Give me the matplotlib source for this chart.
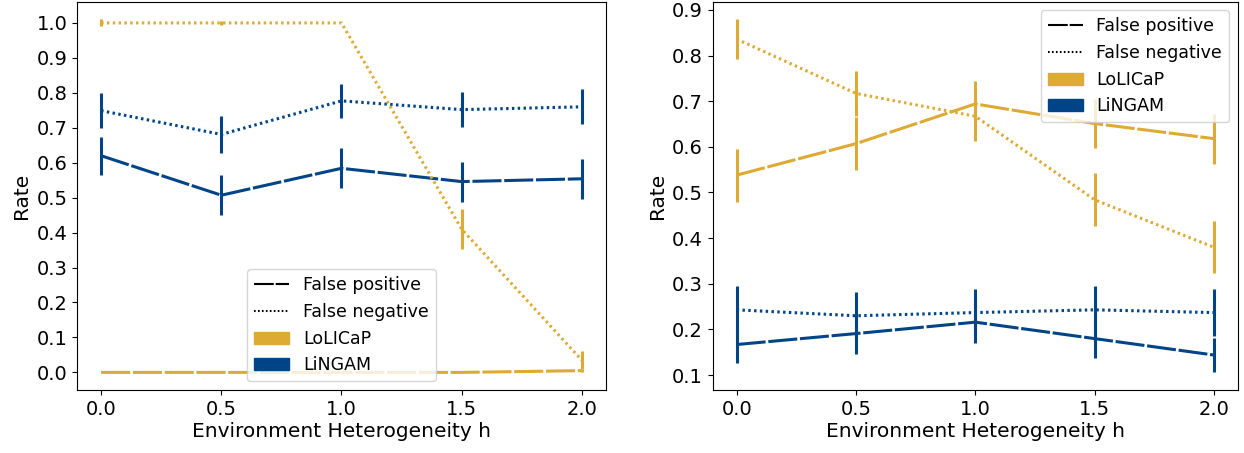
import matplotlib
matplotlib.use("Agg")
import matplotlib.pyplot as plt
from matplotlib.lines import Line2D
from matplotlib.patches import Patch

h = [0.0, 0.5, 1.0, 1.5, 2.0]

# Left panel
left_lolicap_fp = [0.0, 0.0, 0.0, 0.0, 0.005]
left_lolicap_fp_err = [0.0, 0.0, 0.0, 0.0, 0.005]
left_lolicap_fn = [1.0, 1.0, 1.0, 0.41, 0.035]
left_lolicap_fn_err = [0.01, 0.005, 0.0, 0.057, 0.025]
left_lingam_fp = [0.620, 0.507, 0.584, 0.546, 0.554]
left_lingam_fp_err = [0.055, 0.057, 0.057, 0.057, 0.057]
left_lingam_fn = [0.749, 0.681, 0.777, 0.752, 0.760]
left_lingam_fn_err = [0.050, 0.053, 0.049, 0.050, 0.050]

# Right panel
right_lolicap_fp = [0.538, 0.607, 0.694, 0.651, 0.618]
right_lolicap_fp_err = [0.058, 0.058, 0.050, 0.054, 0.055]
right_lolicap_fn = [0.836, 0.717, 0.667, 0.484, 0.380]
right_lolicap_fn_err = [0.043, 0.050, 0.055, 0.058, 0.057]
right_lingam_fp = [0.167, 0.191, 0.216, 0.180, 0.144]
right_lingam_fp_err = [0.040, 0.044, 0.045, 0.042, 0.038]
right_lingam_fn = [0.243, 0.230, 0.237, 0.243, 0.237]
right_lingam_fn_err = [0.053, 0.052, 0.052, 0.053, 0.052]

colors = {"LoLICaP": "#DDAA33", "LiNGAM": "#004488"}

plt.rcParams['font.family'] = ['DejaVu Sans']
plt.rcParams['font.size'] = 14

DASH = (0, (9.5, 0.9))
DOT = (0, (0.8, 1.1))
LW = 2.2

fig = plt.figure(figsize=(12.44, 4.53), dpi=100)
ax1 = fig.add_axes([0.062, 0.139, 0.425, 0.857])
ax2 = fig.add_axes([0.573, 0.139, 0.422, 0.857])

def draw(ax, data):
    for m in ["LiNGAM", "LoLICaP"]:
        fp, fpe, fn, fne = data[m]
        c = colors[m]
        ax.errorbar(h, fn, yerr=fne, color=c, linestyle=DOT, linewidth=LW,
                    elinewidth=LW, capsize=0)
        ax.errorbar(h, fp, yerr=fpe, color=c, linestyle=DASH, linewidth=LW,
                    elinewidth=LW, capsize=0)
    ax.set_xlabel("Environment Heterogeneity h", fontsize=14.5, labelpad=2)
    ax.set_ylabel("Rate", fontsize=14.5)
    ax.set_xticks(h)
    ax.tick_params(labelsize=14)

draw(ax1, {
    "LoLICaP": (left_lolicap_fp, left_lolicap_fp_err, left_lolicap_fn, left_lolicap_fn_err),
    "LiNGAM": (left_lingam_fp, left_lingam_fp_err, left_lingam_fn, left_lingam_fn_err),
})
draw(ax2, {
    "LoLICaP": (right_lolicap_fp, right_lolicap_fp_err, right_lolicap_fn, right_lolicap_fn_err),
    "LiNGAM": (right_lingam_fp, right_lingam_fp_err, right_lingam_fn, right_lingam_fn_err),
})
ax1.set_yticks([i / 10 for i in range(11)])

handles = [
    Line2D([0], [0], color='black', linestyle=DASH, linewidth=1.5),
    Line2D([0], [0], color='black', linestyle=DOT, linewidth=1.5),
    Patch(color=colors["LoLICaP"]),
    Patch(color=colors["LiNGAM"]),
]
labels = ["False positive", "False negative", "LoLICaP", "LiNGAM"]
ax1.legend(handles, labels, loc='lower center', fontsize=12.5)
ax2.legend(handles, labels, loc='upper right', fontsize=12.5)

fig.savefig("out.png", dpi=100)
